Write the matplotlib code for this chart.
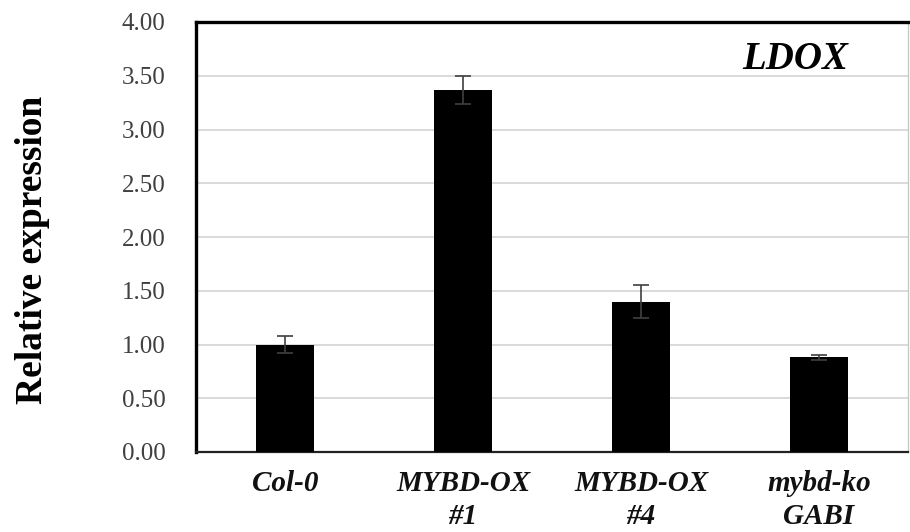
import numpy as np
import matplotlib.pyplot as plt

# data
groups = ['Col-0', 'MYBD-OX\n#1', 'MYBD-OX\n#4', 'mybd-ko\nGABI']
expression = [1.00, 3.37, 1.40, 0.88]
errors = [0.08, 0.13, 0.15, 0.02]
yticks = [0.0, 0.5, 1.0, 1.5, 2.0, 2.5, 3.0, 3.5, 4.0]

serif = ['Liberation Serif', 'DejaVu Serif']

fig = plt.figure(figsize=(9.1, 5.32), dpi=100)
ax = fig.add_axes([196 / 910, 80 / 532, 712 / 910, 430 / 532])

x = np.arange(len(groups))
ax.bar(x, expression, width=0.33, color='black', zorder=3)
ax.errorbar(x, expression, yerr=errors, fmt='none', ecolor='#404040',
            elinewidth=1.2, capsize=6, capthick=1.2, zorder=4)

ax.set_xlim(-0.5, len(groups) - 0.5)
ax.set_ylim(0, 4)
ax.set_yticks(yticks)
ax.set_yticklabels(['{:.2f}'.format(v) for v in yticks],
                   family=serif, fontsize=18, color='#404040')
ax.set_xticks(x)
ax.set_xticklabels(groups, family=serif, fontsize=21, fontweight='bold',
                   fontstyle='italic', linespacing=1.3, color='#111111')
ax.tick_params(axis='y', length=0, pad=22)
ax.tick_params(axis='x', length=0, pad=13)

ax.grid(axis='y', color='#d9d9d9', linewidth=1.4, zorder=0)
ax.set_axisbelow(True)

ax.spines['left'].set_linewidth(2.4)
ax.spines['left'].set_color('black')
ax.spines['top'].set_linewidth(2.4)
ax.spines['top'].set_color('black')
ax.spines['bottom'].set_linewidth(1.6)
ax.spines['bottom'].set_color('#222222')
ax.spines['right'].set_linewidth(1.0)
ax.spines['right'].set_color('#c8c8c8')

fig.text(33 / 910, 1 - 250 / 532, 'Relative expression', rotation=90,
         ha='center', va='center', family=serif, fontsize=27,
         fontweight='bold')

ax.text(0.916, 0.912, 'LDOX', transform=ax.transAxes, ha='right', va='center',
        family=serif, fontsize=28, fontweight='bold', fontstyle='italic')

fig.savefig('out.png', dpi=100)
